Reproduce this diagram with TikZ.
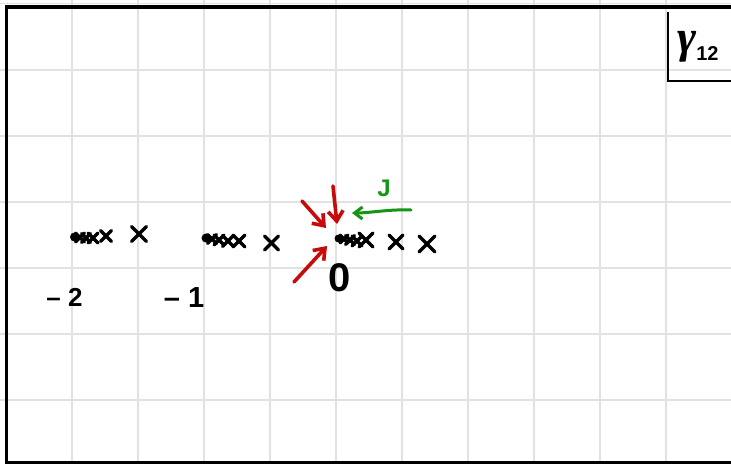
\documentclass[tikz,border=0pt]{standalone}
\usepackage{fontspec}
\setmainfont{Liberation Sans}
\newfontfamily\gfont{Liberation Serif}
\usetikzlibrary{arrows.meta}
\definecolor{gridc}{RGB}{226,226,226}
\definecolor{redc}{RGB}{200,10,10}
\definecolor{greenc}{RGB}{20,150,20}
\tikzset{
  gridline/.style={draw=gridc, line width=1.6pt},
  frameline/.style={draw=black, line width=3.5pt},
  boxline/.style={draw=black, line width=2.8pt},
  xmk/.style={draw=black, line width=3.5pt, line cap=round},
  redarrow/.style={draw=redc, line width=3.6pt, line cap=round, line join=round,
     -{Straight Barb[length=10pt,width=15pt,line width=3.6pt]}},
  greenarrow/.style={draw=greenc, line width=3pt, line cap=round, line join=round,
     -{Straight Barb[length=8pt,width=12pt,line width=3pt]}},
  lbl/.style={inner sep=0pt, font=\bfseries},
}
\newcommand{\crossat}[3]{%
  \draw[xmk] (#1-#3,#2-#3) -- (#1+#3,#2+#3);
  \draw[xmk] (#1-#3,#2+#3) -- (#1+#3,#2-#3);}
\begin{document}
\begin{tikzpicture}[x=1pt,y=-1pt]
\useasboundingbox (0,0) rectangle (731,464);
\fill[white] (0,0) rectangle (731,464);
% grid
\foreach \gx in {71.7,137.7,203.7,269.7,335.7,401.7,467.7,533.7,599.7,665.7}
  \draw[gridline] (\gx,0) -- (\gx,464);
\foreach \gy in {3.5,70,136,202,268,334,400}
  \draw[gridline] (0,\gy) -- (731,\gy);
% frame
\draw[frameline] (731,7) -- (6.5,7) -- (6.5,462.5) -- (731,462.5);
% gamma box
\draw[boxline] (668,12) -- (668,81) -- (731,81);
\node[lbl, anchor=base west] (gam) at (677,52) {{\gfont\bfseries\itshape\fontsize{46}{46}\selectfont γ}\raisebox{-8pt}{\fontsize{20}{20}\selectfont 12}};
% cluster -2
\fill (74.5,237) circle (4.5pt);
\crossat{80}{237.5}{4.5}
\crossat{86}{238}{4.5}
\crossat{93}{238}{5}
\crossat{106}{236}{5.5}
\crossat{139}{234}{7.5}
% cluster -1
\fill (206,238) circle (4.5pt);
\crossat{212}{239}{4.5}
\crossat{219}{240}{5}
\crossat{228}{241}{5.5}
\crossat{239}{241}{6}
\crossat{271.5}{243}{7}
% cluster 0
\fill (338.5,238.5) circle (4pt);
\crossat{344}{239}{4}
\crossat{350}{240}{4.5}
\crossat{357}{241}{5}
\crossat{366}{240}{7}
\crossat{396}{242}{7}
\crossat{427}{244}{8}
% labels
\node[lbl] (lm2) at (64.5,297) {\fontsize{26}{26}\selectfont – 2};
\node[lbl] (lm1) at (184,298) {\fontsize{29}{29}\selectfont – 1};
\node[lbl] (l0) at (340,278) {\fontsize{40}{40}\selectfont 0};
\node[lbl, text=greenc] (lJ) at (384,188) {\fontsize{24}{24}\selectfont J};
% arrows toward 0
\coordinate (r1s) at (302,201);
\coordinate (r1e) at (326,228);
\coordinate (r2s) at (333,186);
\coordinate (r2e) at (337,224);
\coordinate (r3s) at (294,282);
\coordinate (r3e) at (327,246);
\coordinate (gs) at (411,210);
\coordinate (ge) at (352,213);
\draw[redarrow] (r1s) -- (r1e);
\draw[redarrow] (r2s) -- (r2e);
\draw[redarrow] (r3s) -- (r3e);
\draw[greenarrow] (gs) .. controls (390,209) and (370,213) .. (ge);
\end{tikzpicture}
\end{document}
